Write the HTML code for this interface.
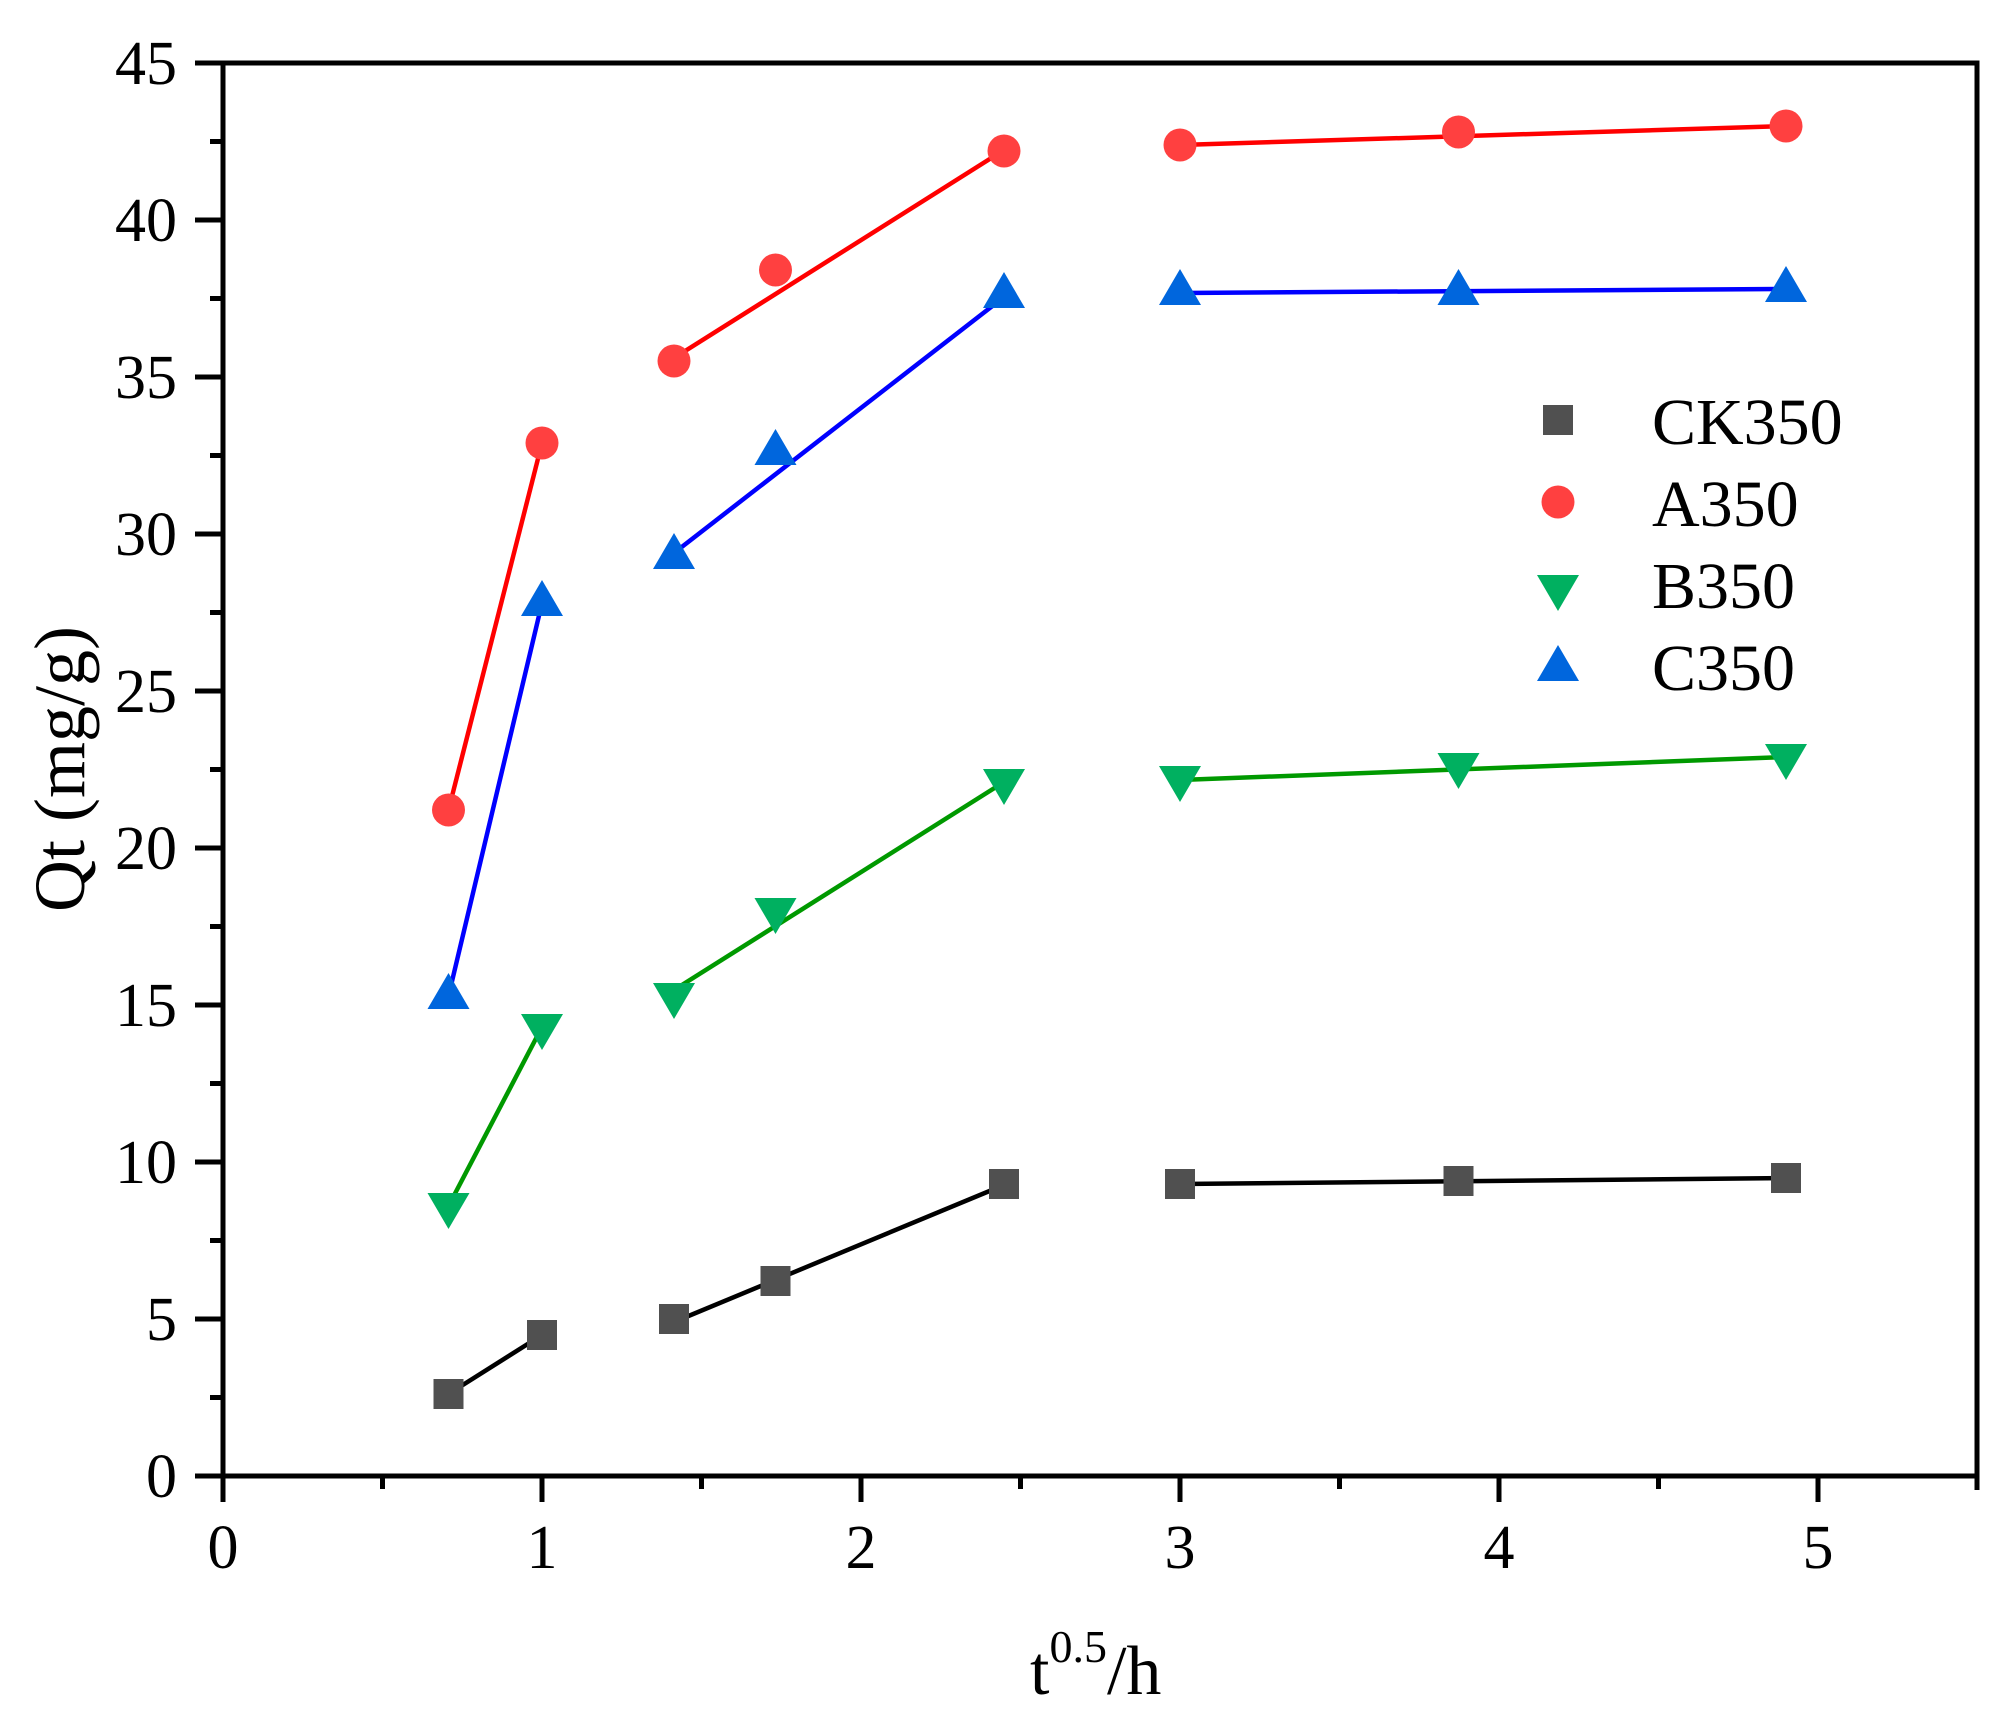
<!DOCTYPE html>
<html><head><meta charset="utf-8"><style>
html,body{margin:0;padding:0;background:#fff;}
svg{display:block;}
text{font-family:"Liberation Serif",serif;fill:#000;}
</style></head><body>
<svg width="2015" height="1724" viewBox="0 0 2015 1724" xmlns="http://www.w3.org/2000/svg">
<defs>
<rect id="sq" x="-15" y="-15" width="30" height="30" fill="#505050"/>
<circle id="ci" r="16.5" fill="#ff4040"/>
<polygon id="td" points="-21,-13 21,-13 0,23" fill="#00b060"/>
<polygon id="tu" points="-21,13 21,13 0,-23" fill="#0066dd"/>
</defs>
<g stroke="#000" stroke-width="5" fill="none">
<rect x="223" y="63" width="1754" height="1413"/>
</g>
<g stroke="#000" stroke-width="5">
<line x1="195" y1="1476" x2="223" y2="1476"/><line x1="195" y1="1319" x2="223" y2="1319"/><line x1="195" y1="1162" x2="223" y2="1162"/><line x1="195" y1="1005" x2="223" y2="1005"/><line x1="195" y1="848" x2="223" y2="848"/><line x1="195" y1="691" x2="223" y2="691"/><line x1="195" y1="534" x2="223" y2="534"/><line x1="195" y1="377" x2="223" y2="377"/><line x1="195" y1="220" x2="223" y2="220"/><line x1="195" y1="63" x2="223" y2="63"/>
<line x1="210" y1="1397.5" x2="223" y2="1397.5"/><line x1="210" y1="1240.5" x2="223" y2="1240.5"/><line x1="210" y1="1083.5" x2="223" y2="1083.5"/><line x1="210" y1="926.5" x2="223" y2="926.5"/><line x1="210" y1="769.5" x2="223" y2="769.5"/><line x1="210" y1="612.5" x2="223" y2="612.5"/><line x1="210" y1="455.5" x2="223" y2="455.5"/><line x1="210" y1="298.5" x2="223" y2="298.5"/><line x1="210" y1="141.5" x2="223" y2="141.5"/>
<line x1="223" y1="1476" x2="223" y2="1502"/><line x1="542" y1="1476" x2="542" y2="1502"/><line x1="861" y1="1476" x2="861" y2="1502"/><line x1="1180" y1="1476" x2="1180" y2="1502"/><line x1="1499" y1="1476" x2="1499" y2="1502"/><line x1="1818" y1="1476" x2="1818" y2="1502"/>
<line x1="382.5" y1="1476" x2="382.5" y2="1489"/><line x1="701.5" y1="1476" x2="701.5" y2="1489"/><line x1="1020.5" y1="1476" x2="1020.5" y2="1489"/><line x1="1339.5" y1="1476" x2="1339.5" y2="1489"/><line x1="1658.5" y1="1476" x2="1658.5" y2="1489"/><line x1="1977" y1="1476" x2="1977" y2="1490"/>
</g>
<g font-size="62" text-anchor="end">
<text x="177" y="1497">0</text><text x="177" y="1340">5</text><text x="177" y="1183">10</text><text x="177" y="1026">15</text><text x="177" y="869">20</text><text x="177" y="712">25</text><text x="177" y="555">30</text><text x="177" y="398">35</text><text x="177" y="241">40</text><text x="177" y="84">45</text>
</g>
<g font-size="62" text-anchor="middle">
<text x="223" y="1568">0</text><text x="542" y="1568">1</text><text x="861" y="1568">2</text><text x="1180" y="1568">3</text><text x="1499" y="1568">4</text><text x="1818" y="1568">5</text>
</g>
<text x="1030" y="1694" font-size="70">t<tspan font-size="46" dy="-32">0.5</tspan><tspan dy="32">/h</tspan></text>
<text transform="translate(84,769) rotate(-90)" font-size="72" text-anchor="middle">Qt (mg/g)</text>
<g stroke-width="4.5" fill="none">
<line x1="448.5" y1="1394" x2="542" y2="1335" stroke="#000"/>
<line x1="674" y1="1322" x2="1004" y2="1185" stroke="#000"/>
<line x1="1180" y1="1184" x2="1786" y2="1178" stroke="#000"/>
<line x1="448.5" y1="810" x2="542" y2="443" stroke="#ff0000"/>
<line x1="674" y1="358" x2="1004" y2="150" stroke="#ff0000"/>
<line x1="1180" y1="145" x2="1786" y2="126" stroke="#ff0000"/>
<line x1="448.5" y1="1206" x2="542" y2="1027" stroke="#009900"/>
<line x1="674" y1="990" x2="1004" y2="782" stroke="#009900"/>
<line x1="1180" y1="780" x2="1786" y2="757" stroke="#009900"/>
<line x1="448.5" y1="996" x2="542" y2="603" stroke="#0000ff"/>
<line x1="674" y1="553" x2="1004" y2="297" stroke="#0000ff"/>
<line x1="1180" y1="293" x2="1786" y2="289" stroke="#0000ff"/>
</g>
<use href="#sq" x="448.5" y="1394"/><use href="#sq" x="542" y="1335"/><use href="#sq" x="674" y="1319"/><use href="#sq" x="775.5" y="1281"/><use href="#sq" x="1004" y="1184"/><use href="#sq" x="1180" y="1184"/><use href="#sq" x="1458.5" y="1181"/><use href="#sq" x="1786" y="1178"/>
<use href="#ci" x="448.5" y="810"/><use href="#ci" x="542" y="443"/><use href="#ci" x="674" y="361"/><use href="#ci" x="775.5" y="270"/><use href="#ci" x="1004" y="151"/><use href="#ci" x="1180" y="145"/><use href="#ci" x="1458.5" y="132"/><use href="#ci" x="1786" y="126"/>
<use href="#td" x="448.5" y="1206"/><use href="#td" x="542" y="1027"/><use href="#td" x="674" y="996"/><use href="#td" x="775.5" y="911"/><use href="#td" x="1004" y="782"/><use href="#td" x="1180" y="779"/><use href="#td" x="1458.5" y="766"/><use href="#td" x="1786" y="757"/>
<use href="#tu" x="448.5" y="996"/><use href="#tu" x="542" y="603"/><use href="#tu" x="674" y="556"/><use href="#tu" x="775.5" y="452"/><use href="#tu" x="1004" y="295"/><use href="#tu" x="1180" y="292"/><use href="#tu" x="1458.5" y="292"/><use href="#tu" x="1786" y="289"/>
<use href="#sq" x="1558" y="420"/><use href="#ci" x="1558" y="502"/><use href="#td" x="1558" y="588"/><use href="#tu" x="1558" y="668"/>
<g font-size="66">
<text x="1652" y="444">CK350</text><text x="1652" y="526">A350</text><text x="1652" y="608">B350</text><text x="1652" y="690">C350</text>
</g>
</svg>
</body></html>
